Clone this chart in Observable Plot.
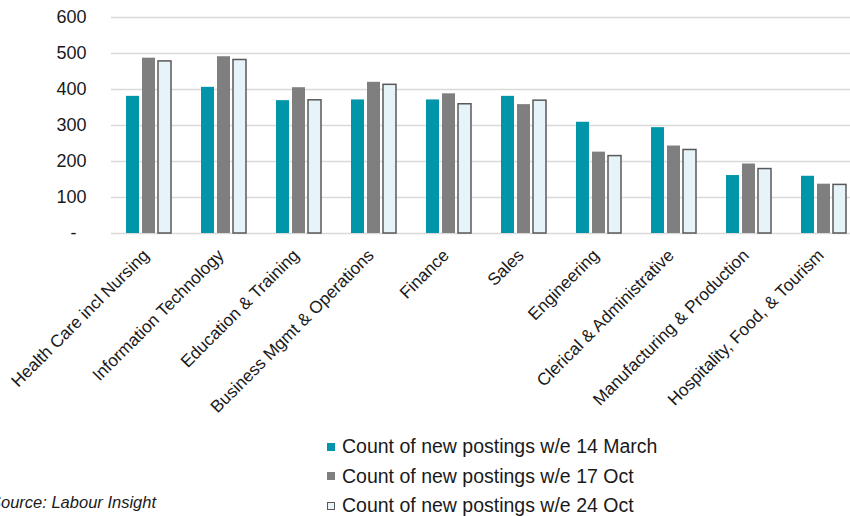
<!DOCTYPE html>
<html>
<head>
<meta charset="utf-8">
<script src="https://cdn.jsdelivr.net/npm/d3@7"></script>
<script src="https://cdn.jsdelivr.net/npm/@observablehq/plot@0.6"></script>
<style>
  body { margin: 0; background: #fff; font-family: "Liberation Sans", Arial, sans-serif; overflow: hidden; }
  #wrap { position: relative; width: 850px; height: 516px; overflow: hidden; }
  #legend { position: absolute; left: 327px; top: 432px; font-size: 19.5px; color: #1a1a1a; }
  .row { display: flex; align-items: center; height: 29.5px; white-space: nowrap; }
  .sw { width: 8px; height: 8px; box-sizing: border-box; margin-right: 7px; }
  #source { position: absolute; left: -10px; top: 493px; font-size: 16.5px; font-style: italic; color: #1a1a1a; white-space: nowrap; }
</style>
</head>
<body>
<div id="wrap">
  <div id="chart"></div>
  <div id="legend"></div>
  <div id="source">Source: Labour Insight</div>
</div>
<script>
// Occupation groups along the x axis
const categories = [
  "Health Care incl Nursing",
  "Information Technology",
  "Education & Training",
  "Business Mgmt & Operations",
  "Finance",
  "Sales",
  "Engineering",
  "Clerical & Administrative",
  "Manufacturing & Production",
  "Hospitality, Food, & Tourism"
];

// Series names (week ending)
const seriesNames = [
  "Count of new postings w/e 14 March",
  "Count of new postings w/e 17 Oct",
  "Count of new postings w/e 24 Oct"
];

// Counts of new postings per occupation group
const march14 = [381, 406, 369, 371, 371, 381, 309, 294, 161, 159];
const oct17   = [487, 491, 405, 420, 388, 358, 226, 243, 193, 137];
const oct24   = [478, 482, 370, 413, 359, 369, 215, 232, 179, 135];

// Y axis ticks
const yTicks = [0, 100, 200, 300, 400, 500, 600];

const seriesValues = [march14, oct17, oct24];
const seriesFill = ["#0095a8", "#7f7f7f", "#e6f4f9"];
const seriesStroke = ["none", "none", "#595959"];

const rows = categories.flatMap((category, i) =>
  seriesNames.map((series, s) => ({category, series, value: seriesValues[s][i]}))
);

const barMarks = seriesNames.map((name, s) =>
  Plot.barY(rows.filter(d => d.series === name), {
    fx: "category",
    x: "series",
    y: "value",
    fill: seriesFill[s],
    stroke: seriesStroke[s],
    strokeWidth: 1.5
  })
);

const chart = Plot.plot({
  width: 850,
  height: 425,
  marginTop: 17,
  marginBottom: 192,
  marginLeft: 107,
  marginRight: -14,
  style: {fontFamily: "'Liberation Sans', Arial, sans-serif", color: "#1a1a1a"},
  fx: {domain: categories, padding: 0, label: null},
  x: {domain: seriesNames, paddingInner: 0.21, paddingOuter: 0.9, axis: null},
  y: {domain: [0, 600], label: null},
  marks: [
    Plot.gridY(yTicks, {stroke: "#d9d9d9", strokeOpacity: 1, strokeWidth: 1.5}),
    Plot.axisY(yTicks, {
      tickSize: 0,
      tickPadding: 25,
      fontSize: 18,
      label: null,
      tickFormat: d => d === 0 ? "-  " : String(d)
    }),
    ...barMarks,
    Plot.axisFx({
      anchor: "bottom",
      tickRotate: -45,
      tickSize: 0,
      tickPadding: 19,
      dx: -3,
      fontSize: 17.2,
      label: null
    })
  ]
});
document.getElementById("chart").appendChild(chart);

// Legend below the chart
const legend = document.getElementById("legend");
seriesNames.forEach((name, s) => {
  const row = document.createElement("div");
  row.className = "row";
  const sw = document.createElement("span");
  sw.className = "sw";
  sw.style.background = seriesFill[s];
  if (seriesStroke[s] !== "none") sw.style.border = "1px solid " + seriesStroke[s];
  const label = document.createElement("span");
  label.textContent = name;
  row.appendChild(sw);
  row.appendChild(label);
  legend.appendChild(row);
});
</script>
</body>
</html>
